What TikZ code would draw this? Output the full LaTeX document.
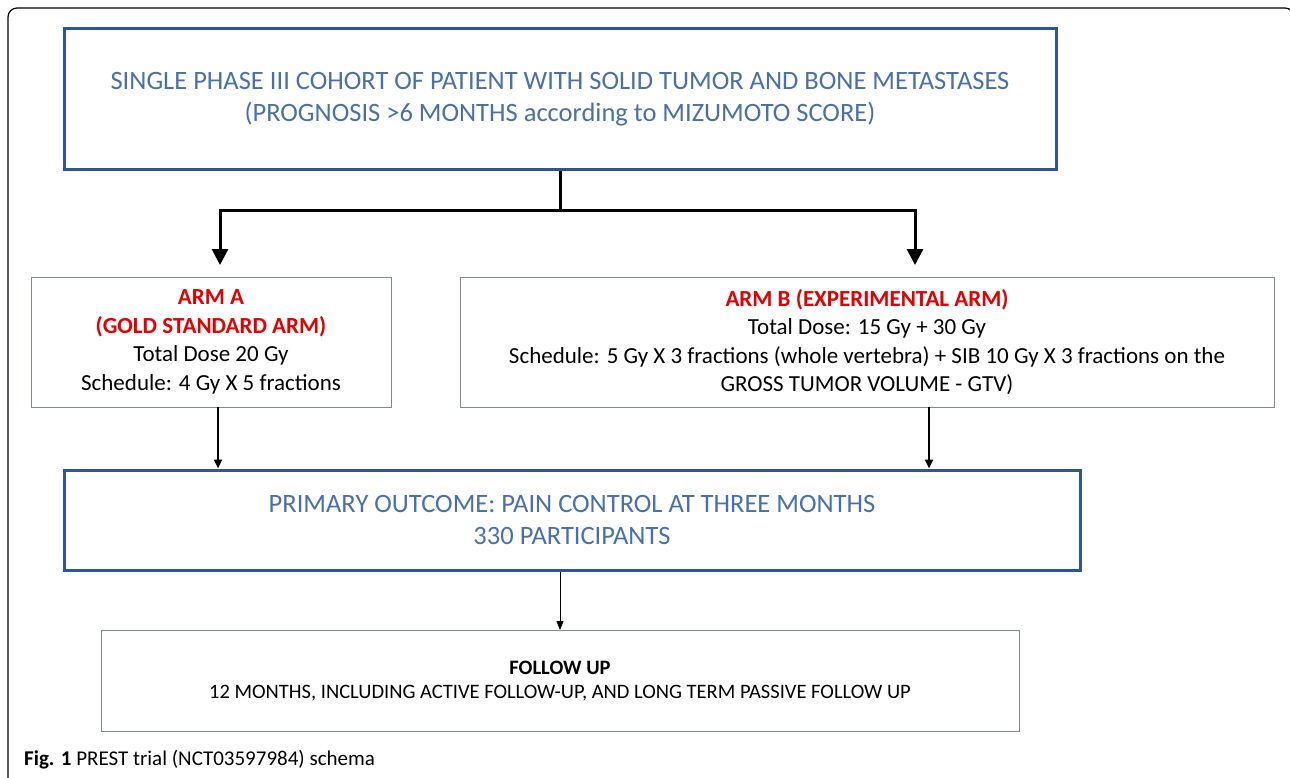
\documentclass[tikz,border=0pt]{standalone}
\usepackage{fontspec}
\setmainfont{Carlito}
\definecolor{boxblue}{RGB}{47, 85, 151}
\definecolor{textblue}{RGB}{72, 112, 172}
\definecolor{armred}{RGB}{226, 0, 0}
\definecolor{edgegray}{RGB}{128, 138, 148}
\usetikzlibrary{arrows.meta, positioning, calc}

\begin{document}
\begin{tikzpicture}[x=1pt, y=-1pt,
  bluebox/.style={draw=boxblue, line width=3pt, minimum width=#1, align=center, text=textblue, font=\fontsize{26.5}{32}\selectfont},
  graybox/.style={draw=edgegray, line width=0.9pt, minimum width=#1, align=center, font=\fontsize{23}{28.5}\selectfont},
  bigarr/.style={-{Triangle[length=16pt, width=16pt]}, line width=3pt},
  midarr/.style={-{Triangle[length=9pt, width=8pt]}, line width=2.5pt},
  thinarr/.style={-{Triangle[length=9pt, width=7pt]}, line width=1pt},
]
  \useasboundingbox (0, 0) rectangle (1290, 778);
  \clip (0, 0) rectangle (1290, 778);
  \fill[white] (0, 0) rectangle (1290, 778);

  % Frame
  \draw[line width=1.2pt, rounded corners=9pt] (8, 8) rectangle (1294, 800);

  % Cohort
  \node[bluebox=992, minimum height=141] (cohort) at (560, 99) {SINGLE PHASE III COHORT OF PATIENT WITH SOLID TUMOR AND BONE METASTASES\\(PROGNOSIS >6 MONTHS according to MIZUMOTO SCORE)};

  % Arms
  \node[graybox=360, minimum height=130] (armA) at (211, 342) {\textcolor{armred}{\textbf{ARM A}}\\\textcolor{armred}{\textbf{(GOLD STANDARD ARM)}}\\Total Dose 20 Gy\\Schedule: 4 Gy X 5 fractions};
  \node[graybox=814, minimum height=130] (armB) at (867, 342) {\textcolor{armred}{\textbf{ARM B (EXPERIMENTAL ARM)}}\\Total Dose: 15 Gy + 30 Gy\\Schedule: 5 Gy X 3 fractions (whole vertebra) + SIB 10 Gy X 3 fractions on the\\GROSS TUMOR VOLUME - GTV)};

  % Outcome
  \node[bluebox=1016, minimum height=100] (outcome) at (572, 520) {PRIMARY OUTCOME: PAIN CONTROL AT THREE MONTHS\\330 PARTICIPANTS};

  % Follow up
  \node[graybox=918, minimum height=101, font=\fontsize{20.5}{24}\selectfont] (follow) at (560, 681) {\textbf{FOLLOW UP}\\12 MONTHS, INCLUDING ACTIVE FOLLOW-UP, AND LONG TERM PASSIVE FOLLOW UP};

  % Caption
  \node[anchor=base west, inner sep=0pt, font=\fontsize{21}{24}\selectfont] (caption) at (24, 765) {\textbf{Fig. 1} PREST trial (NCT03597984) schema};

  \coordinate (split) at (560, 211);
  \coordinate (inA) at (220, 265);
  \coordinate (inB) at (915, 265);

  \draw[line width=3pt] (cohort.south) -- (split);
  \draw[bigarr] (split) -| (inA);
  \draw[bigarr] (split) -| (inB);
  \draw[midarr] ([xshift=7]armA.south) -- ([xshift=7]armA.south |- outcome.north);
  \draw[midarr] ([xshift=62]armB.south) -- ([xshift=62]armB.south |- outcome.north);
  \draw[thinarr] (follow.north |- outcome.south) -- (follow.north);
\end{tikzpicture}
\end{document}
